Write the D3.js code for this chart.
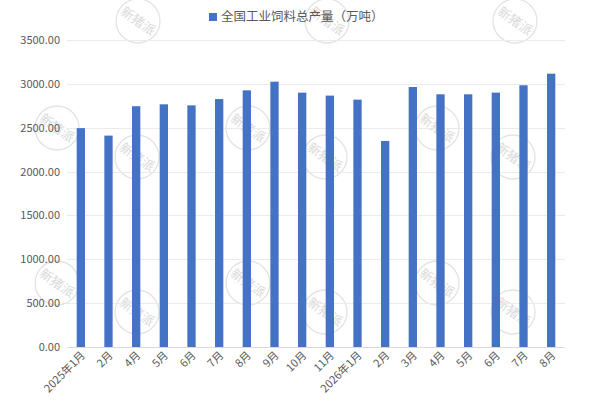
<!DOCTYPE html>
<html><head><meta charset="utf-8">
<script src="https://cdn.jsdelivr.net/npm/d3@7"></script>
<style>body{margin:0;background:#fff}svg{display:block}</style>
</head><body>
<svg id="c" width="600" height="400"></svg>
<script>
const categories = ["2025年1月","2月","4月","5月","6月","7月","8月","9月","10月","11月","2026年1月","2月","3月","4月","5月","6月","7月","8月"];
const values = [2495,2410,2745,2767,2755,2827,2926,3025,2900,2866,2820,2349,2964,2881,2881,2900,2984,3116];
const yTicks = [0,500,1000,1500,2000,2500,3000,3500];
const seriesName = "全国工业饲料总产量（万吨）";

const svg = d3.select("#c");
const font = "'Noto Sans CJK SC', 'Noto Sans', sans-serif";
const m = {l:67, r:35, t:40, b:53};
const W = 600, H = 400;
const keys = categories.map((c,i)=>i);
const x = d3.scaleBand().domain(keys).range([m.l, W-m.r]).paddingInner(0.7).paddingOuter(0.35);
const y = d3.scaleLinear().domain([0,3500]).range([H-m.b, m.t]);

// watermarks
const wm = [[138,21],[327,21],[515,21],[57,128],[137,157],[248,128],[325,157],[437,128],[513,157],[57,283],[137,312],[248,283],[325,312],[437,283],[513,312]];
const wg = svg.append("g");
wm.forEach(([cx,cy])=>{
  const g = wg.append("g").attr("transform",`translate(${cx},${cy})`);
  g.append("circle").attr("r",22).attr("fill","none").attr("stroke","#e3e3e3").attr("stroke-width",1.3);
  g.append("text").attr("transform","rotate(35)").attr("text-anchor","middle").attr("dy","0.35em")
   .attr("font-family",font).attr("font-size",13).attr("fill","#dadada").text("新猪派");
});

// grid
svg.append("g").selectAll("line").data(yTicks).join("line")
  .attr("x1",m.l).attr("x2",W-m.r).attr("y1",d=>Math.round(y(d))+0.5).attr("y2",d=>Math.round(y(d))+0.5)
  .attr("stroke",d=>d===0?"#d9d9d9":"#ebebeb").attr("stroke-width",1);

// y axis labels
const ya = svg.append("g").attr("transform",`translate(${m.l},0)`)
  .call(d3.axisLeft(y).tickValues(yTicks).tickFormat(d3.format(".2f")).tickSize(0).tickPadding(7));
ya.select(".domain").remove();
ya.selectAll("text").attr("font-family",font).attr("font-size",11).attr("fill","#595959");

// bars
svg.append("g").selectAll("rect").data(values).join("rect")
  .attr("x",(d,i)=>x(i)).attr("width",x.bandwidth())
  .attr("y",d=>y(d)).attr("height",d=>y(0)-y(d))
  .attr("fill","#4472c4");

// x axis
const xa = svg.append("g").attr("transform",`translate(0,${y(0)})`)
  .call(d3.axisBottom(x).tickFormat(i=>categories[i]).tickSize(0).tickPadding(0));
xa.select(".domain").remove();
xa.selectAll("text").attr("font-family",font).attr("font-size",11).attr("fill","#595959")
  .attr("text-anchor","end").attr("dy",0)
  .attr("transform","translate(5,9) rotate(-45)");

// legend
const lg = svg.append("g").attr("transform","translate(0,17)");
lg.append("rect").attr("x",209).attr("y",-4).attr("width",8).attr("height",8).attr("fill","#4472c4");
lg.append("text").attr("x",221).attr("y",0).attr("dy","0.35em").attr("font-family",font).attr("font-size",12.5)
  .attr("fill","#595959").text(seriesName);
</script>
</body></html>
